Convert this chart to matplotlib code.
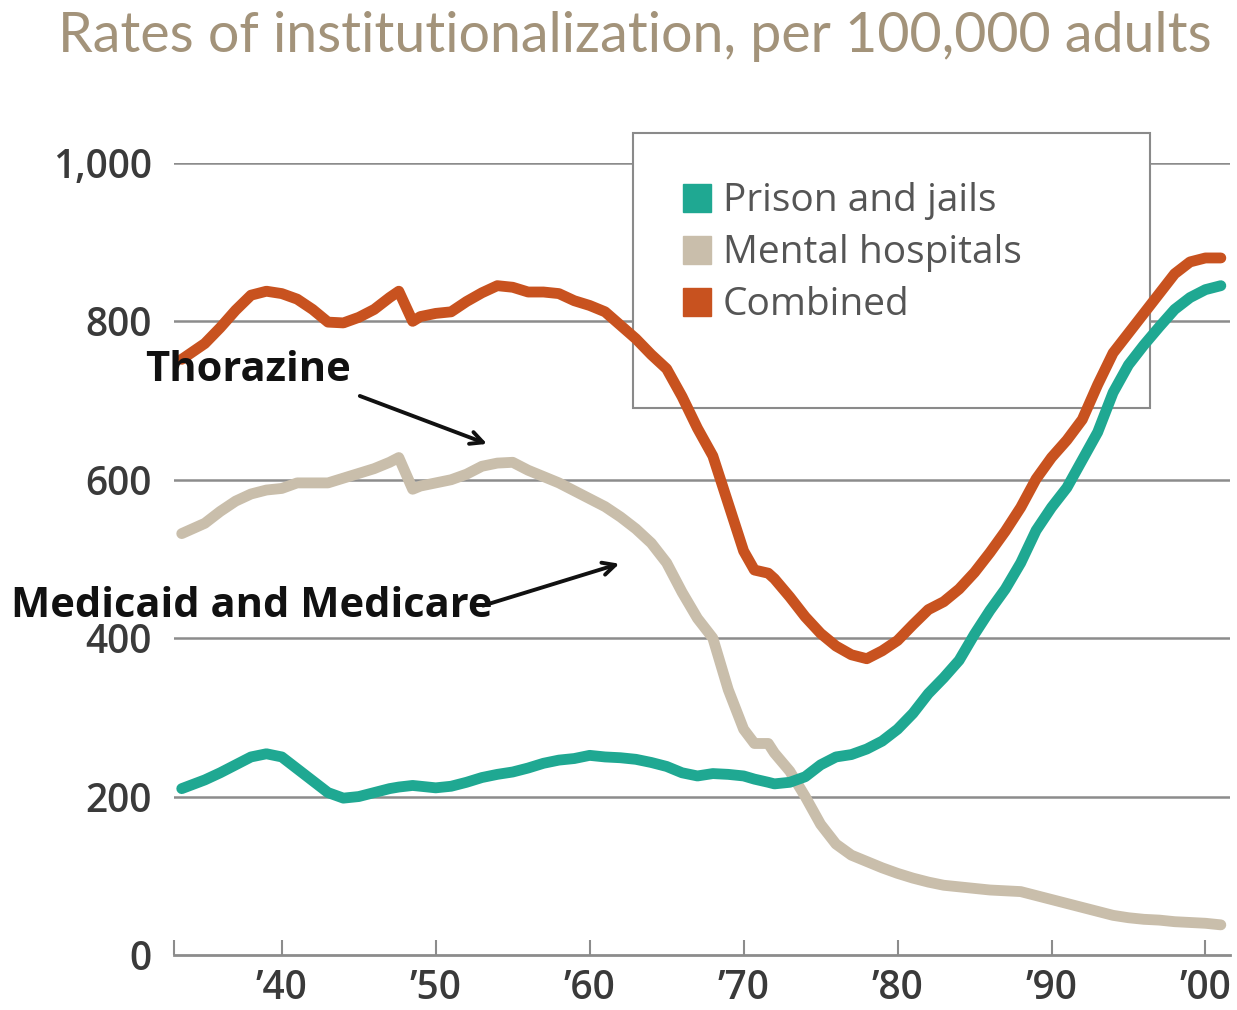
import matplotlib
matplotlib.use("Agg")
import matplotlib.pyplot as plt
from matplotlib.lines import Line2D
from matplotlib.patches import Rectangle

# ---------------- data ----------------
years = [1933.5, 1935, 1936, 1937, 1938, 1939, 1940, 1941, 1942, 1943, 1944,
         1945, 1946, 1947, 1947.6, 1948.5, 1949, 1950, 1951, 1952, 1953, 1954,
         1955, 1956, 1957, 1958, 1959, 1960, 1961, 1962, 1963, 1964, 1965,
         1966, 1967, 1968, 1969, 1970, 1970.7, 1971.6, 1972, 1973, 1974, 1975,
         1976, 1977, 1978, 1979, 1980, 1981, 1982, 1983, 1984, 1985, 1986,
         1987, 1988, 1989, 1990, 1991, 1992, 1993, 1994, 1995, 1996, 1997,
         1998, 1999, 2000, 2001]

prison = [210, 221, 230, 240, 250, 254, 250, 235, 220, 205, 198,
          200, 205, 210, 212, 214, 213, 211, 213, 218, 224, 228,
          231, 236, 242, 246, 248, 252, 250, 249, 247, 243, 238,
          230, 226, 229, 228, 226, 222, 218, 216, 218, 225, 240,
          250, 253, 260, 270, 285, 305, 330, 350, 372, 405, 435,
          462, 495, 536, 565, 590, 625, 660, 710, 745, 770, 793,
          815, 830, 840, 845]

mental = [532, 545, 560, 573, 582, 587, 589, 596, 596, 596, 602,
          608, 614, 622, 628, 588, 592, 596, 600, 607, 617, 621,
          622, 612, 604, 596, 586, 576, 566, 553, 538, 520, 495,
          458, 425, 400, 335, 285, 267, 267, 255, 232, 200, 165,
          140, 126, 118, 110, 103, 97, 92, 88, 86, 84, 82,
          81, 80, 75, 70, 65, 60, 55, 50, 47, 45, 44,
          42, 41, 40, 38]

combined = [752, 772, 792, 814, 833, 838, 835, 828, 815, 799, 798,
            805, 815, 830, 838, 800, 806, 810, 812, 825, 836, 845,
            843, 837, 837, 835, 826, 820, 812, 795, 778, 758, 740,
            705, 665, 630, 570, 510, 486, 482, 475, 452, 427, 406,
            390, 379, 374, 384, 397, 417, 436, 446, 462, 483, 508,
            535, 565, 601, 628, 650, 676, 720, 760, 785, 810, 835,
            860, 875, 880, 880]

series_names = ["Prison and jails", "Mental hospitals", "Combined"]
x_tick_years = [1940, 1950, 1960, 1970, 1980, 1990, 2000]
x_tick_labels = ["\u201940", "\u201950", "\u201960", "\u201970", "\u201980", "\u201990", "\u201900"]
y_ticks = [0, 200, 400, 600, 800, 1000]
y_tick_labels = ["0", "200", "400", "600", "800", "1,000"]

title = "Rates of institutionalization, per 100,000 adults"

# ---------------- style ----------------
c_prison = "#1fa892"
c_mental = "#c9beab"
c_comb = "#c8521f"
grid_c = "#8c8c8c"
lab_c = "#3a3a3a"

plt.rcParams["font.family"] = ["Open Sans", "DejaVu Sans"]

fig = plt.figure(figsize=(12.37, 10.10), dpi=100)
ax = fig.add_axes([0.1407, 0.0545, 0.8537, 0.7842])

ax.set_xlim(1933.0, 2001.6)
ax.set_ylim(0, 1000)

for v in y_ticks[1:]:
    ax.axhline(v, color=grid_c, lw=1.8, zorder=1)

# legend box (white, covers gridlines)
ax.add_patch(Rectangle((0.4347, 0.691), 0.4895, 0.347, transform=ax.transAxes,
                       facecolor="white", edgecolor="#8a8a8a", lw=1.5,
                       clip_on=False, zorder=2))

lw = 7.8
ax.plot(years, mental, color=c_mental, lw=lw, solid_capstyle="round",
        solid_joinstyle="round", zorder=3)
ax.plot(years, prison, color=c_prison, lw=lw, solid_capstyle="round",
        solid_joinstyle="round", zorder=4)
ax.plot(years, combined, color=c_comb, lw=lw, solid_capstyle="round",
        solid_joinstyle="round", zorder=5)

handles = [Line2D([], [], marker="s", linestyle="none", color=c, markersize=20)
           for c in (c_prison, c_mental, c_comb)]
leg = ax.legend(handles, series_names, loc="upper left",
                bbox_to_anchor=(0.468, 0.995), frameon=False,
                prop={"family": ["Open Sans", "DejaVu Sans"], "size": 28},
                labelcolor="#555555", handlelength=0.7,
                handletextpad=0.3, labelspacing=0.36, borderaxespad=0)
leg.set_zorder(6)

# spines and ticks
for s in ("top", "right", "left"):
    ax.spines[s].set_visible(False)
ax.spines["bottom"].set_color(grid_c)
ax.spines["bottom"].set_linewidth(2.0)
ax.spines["bottom"].set_zorder(1)

ax.set_xticks([1933.0] + x_tick_years)
ax.set_xticklabels([""] + x_tick_labels)
ax.tick_params(axis="x", direction="in", length=11, width=1.5, color=grid_c,
               pad=10, labelsize=28, labelcolor=lab_c)
ax.set_yticks(y_ticks)
ax.set_yticklabels(y_tick_labels)
ax.tick_params(axis="y", length=0, pad=16, labelsize=28, labelcolor=lab_c)
for t in ax.get_yticklabels() + ax.get_xticklabels():
    t.set_fontweight("semibold")

# title
fig.text(0.047, 0.964, title, ha="left", va="center", fontsize=40,
         color="#a3937a", family=["Lato", "DejaVu Sans"])

# annotations
ax.text(1931.1, 738, "Thorazine", fontsize=30, fontweight="bold",
        color="#111111", ha="left", va="center", clip_on=False,
        family=["Open Sans", "DejaVu Sans"], zorder=7)
ax.text(1922.4, 440, "Medicaid and Medicare", fontsize=30, fontweight="bold",
        color="#111111", ha="left", va="center", clip_on=False,
        family=["Open Sans", "DejaVu Sans"], zorder=7)
ax.annotate("", xy=(1953.5, 644), xytext=(1944.9, 707),
            arrowprops=dict(arrowstyle="->,head_length=0.9,head_width=0.45",
                            color="#111111", lw=2.8), zorder=7)
ax.annotate("", xy=(1962.1, 495), xytext=(1952.9, 440),
            arrowprops=dict(arrowstyle="->,head_length=0.9,head_width=0.45",
                            color="#111111", lw=2.8), zorder=7)

fig.savefig("out.png", dpi=100, facecolor="white")
